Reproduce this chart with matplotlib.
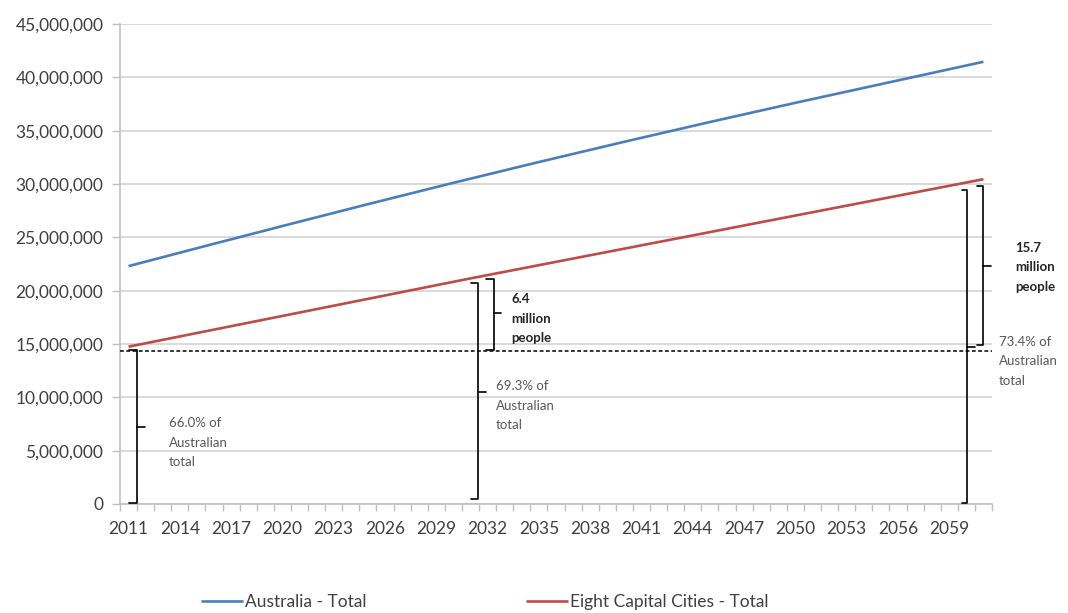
import matplotlib
matplotlib.use("Agg")
import matplotlib.pyplot as plt
from matplotlib.ticker import FuncFormatter, FixedLocator

plt.rcParams['font.family'] = ['Lato', 'DejaVu Sans']

years = list(range(2011, 2062))

australia_total = [
    22.30, 22.72, 23.14, 23.56, 23.98, 24.40, 24.81, 25.23, 25.64, 26.06,
    26.47, 26.88, 27.29, 27.70, 28.11, 28.51, 28.91, 29.31, 29.71, 30.11,
    30.50, 30.89, 31.28, 31.67, 32.06, 32.44, 32.82, 33.20, 33.58, 33.96,
    34.33, 34.70, 35.07, 35.44, 35.81, 36.17, 36.53, 36.89, 37.25, 37.61,
    37.96, 38.31, 38.66, 39.01, 39.36, 39.71, 40.06, 40.41, 40.76, 41.11,
    41.46,
]

capital_cities_total = [
    14.75, 15.07, 15.39, 15.71, 16.03, 16.35, 16.67, 16.99, 17.31, 17.63,
    17.95, 18.27, 18.59, 18.91, 19.23, 19.55, 19.87, 20.19, 20.51, 20.83,
    21.15, 21.46, 21.77, 22.08, 22.39, 22.70, 23.01, 23.32, 23.63, 23.94,
    24.25, 24.56, 24.87, 25.18, 25.49, 25.80, 26.11, 26.42, 26.73, 27.04,
    27.35, 27.66, 27.97, 28.28, 28.59, 28.90, 29.21, 29.52, 29.83, 30.14,
    30.45,
]

series_names = ["Australia - Total", "Eight Capital Cities - Total"]
x_tick_labels = [str(y) for y in range(2011, 2060, 3)]
y_ticks = [0, 5e6, 10e6, 15e6, 20e6, 25e6, 30e6, 35e6, 40e6, 45e6]

share_labels = ["66.0% of\nAustralian\ntotal",
                "69.3% of\nAustralian\ntotal",
                "73.4% of\nAustralian\ntotal"]
growth_labels = ["6.4\nmillion\npeople", "15.7\nmillion\npeople"]

BLUE = "#4a7ebb"
RED = "#be4b48"
GRID = "#d9d9d9"
AXIS = "#bfbfbf"
TEXT = "#404040"

fig = plt.figure(figsize=(10.68, 6.13), dpi=100)
ax = fig.add_axes([120 / 1068, 1 - 504 / 613, 872 / 1068, 480 / 613])

aus = [v * 1e6 for v in australia_total]
cap = [v * 1e6 for v in capital_cities_total]
ax.plot(years, aus, color=BLUE, lw=1.9, label=series_names[0], solid_capstyle='butt', zorder=3)
ax.plot(years, cap, color=RED, lw=1.9, label=series_names[1], solid_capstyle='butt', zorder=3)

ax.set_xlim(2010.5, 2061.5)
ax.set_ylim(0, 45e6)

# y axis
ax.set_yticks(y_ticks)
ax.yaxis.set_major_formatter(FuncFormatter(lambda v, p: f"{int(v):,}"))
ax.grid(axis='y', color=GRID, lw=1.4, zorder=0)
ax.set_axisbelow(True)

# x axis: labels at every third year, tick marks between categories
ax.xaxis.set_major_locator(FixedLocator(list(range(2011, 2060, 3))))
ax.set_xticklabels(x_tick_labels)
ax.xaxis.set_minor_locator(FixedLocator([y - 0.5 for y in years] + [2061.5]))
ax.tick_params(axis='x', which='major', length=0, pad=12, labelsize=12.5, labelcolor=TEXT)
ax.tick_params(axis='x', which='minor', length=5, width=1, color=AXIS, direction='out')
ax.tick_params(axis='y', which='major', length=6, width=1, color=AXIS, pad=6,
               labelsize=12.5, labelcolor=TEXT)

for s in ('top', 'right'):
    ax.spines[s].set_visible(False)
for s in ('left', 'bottom'):
    ax.spines[s].set_color(AXIS)
    ax.spines[s].set_linewidth(1.2)

# 2011 baseline
base = 14.35e6
ax.plot([2010.5, 2061.5], [base, base], color='black', lw=1.1,
        dashes=(2.5, 1.6), zorder=4, clip_on=False)


def brace(x, y0, y1, mid=None, hook=0.45, tick=0.45):
    """Vertical brace: hooks to the left at both ends, point to the right."""
    if mid is None:
        mid = (y0 + y1) / 2
    kw = dict(color='black', lw=1.2, zorder=5, clip_on=False,
              solid_capstyle='round', solid_joinstyle='round')
    ax.plot([x - hook, x, x, x - hook], [y0, y0, y1, y1], **kw)
    ax.plot([x, x + tick], [mid, mid], **kw)


note_kw = dict(fontsize=9.5, va='center', ha='left', linespacing=1.75, clip_on=False)

# 2011 share
brace(2011.5, 0.1e6, 14.4e6, mid=7.25e6)
ax.text(2013.35, 5.75e6, share_labels[0], color="#595959", **note_kw)

# 2031 share and growth
brace(2031.45, 0.45e6, 20.7e6, mid=10.5e6)
ax.text(2032.5, 9.2e6, share_labels[1], color="#595959", **note_kw)
brace(2032.35, 14.45e6, 21.1e6, mid=17.9e6)
ax.text(2033.4, 17.35e6, growth_labels[0], color="#262626", fontweight='bold', **note_kw)

# 2061 share and growth
brace(2060.05, 0.1e6, 29.45e6, mid=14.75e6, hook=0.3)
ax.text(2061.9, 13.4e6, share_labels[2], color="#595959", **note_kw)
brace(2061.0, 14.9e6, 29.8e6, mid=22.35e6, hook=0.35)
ax.text(2062.85, 22.2e6, growth_labels[1], color="#262626", fontweight='bold', **note_kw)

fig.legend(loc='center', bbox_to_anchor=(485 / 1068, 1 - 602 / 613), ncol=2,
           frameon=False, fontsize=12.5, handlelength=2.4, handletextpad=0.12,
           columnspacing=9.2, labelcolor=TEXT)

fig.savefig("out.png", dpi=100)
